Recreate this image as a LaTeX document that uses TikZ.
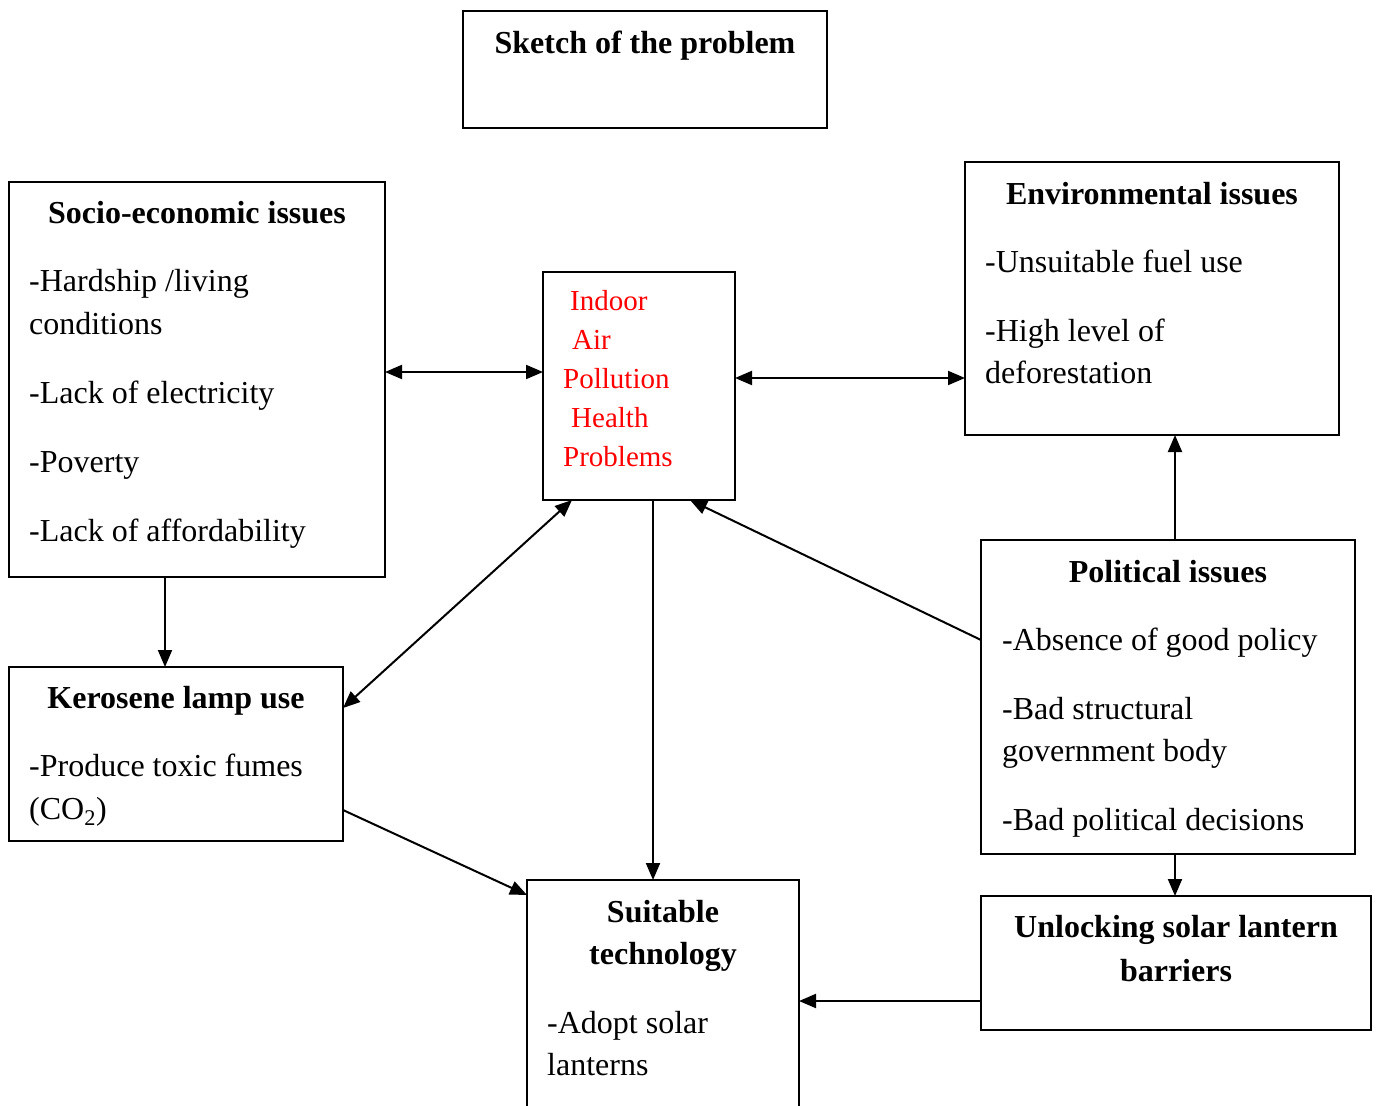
\documentclass[tikz,border=0pt]{standalone}
\usepackage{fontspec}
\setmainfont{Liberation Serif}
\usetikzlibrary{arrows.meta}
\begin{document}
\begin{tikzpicture}[x=1pt,y=-1pt,
  box/.style={draw, line width=1.8pt, inner sep=0pt, outer sep=0pt},
  txt/.style={inner sep=0pt, anchor=base west, font=\fontsize{32}{43}\selectfont},
  ttl/.style={inner sep=0pt, anchor=base, font=\fontsize{32}{43}\selectfont\bfseries},
  red/.style={inner sep=0pt, anchor=base west, text=red, font=\fontsize{29}{39}\selectfont},
  conn/.style={line width=2pt, -{Triangle[length=17pt,width=14pt]}},
  biconn/.style={line width=2pt, {Triangle[length=17pt,width=14pt]}-{Triangle[length=17pt,width=14pt]}}]
\useasboundingbox (0,0) rectangle (1377,1106);
% boxes
\node[box, minimum width=364pt, minimum height=117pt] (sk) at (645,69.5) {};
\node[box, minimum width=376pt, minimum height=395pt] (soc) at (197,379.5) {};
\node[box, minimum width=192pt, minimum height=228pt] (iap) at (639,386) {};
\node[box, minimum width=374pt, minimum height=273pt] (env) at (1152,298.5) {};
\node[box, minimum width=374pt, minimum height=314pt] (pol) at (1168,697) {};
\node[box, minimum width=334pt, minimum height=174pt] (ker) at (176,754) {};
\node[box, minimum width=272pt, minimum height=260pt] (suit) at (663,1010) {};
\node[box, minimum width=390pt, minimum height=134pt] (unl) at (1176,963) {};
% texts
\node[ttl] (skt) at (645,53) {Sketch of the problem};
\node[ttl] (soct) at (197,223) {Socio-economic issues};
\node[txt] (soc1) at (29,291) {-Hardship /living};
\node[txt] (soc2) at (29,334) {conditions};
\node[txt] (soc3) at (29,403) {-Lack of electricity};
\node[txt] (soc4) at (29,472) {-Poverty};
\node[txt] (soc5) at (29,541) {-Lack of affordability};
\node[red] (i1) at (570,310) {Indoor};
\node[red] (i2) at (572,349) {Air};
\node[red] (i3) at (563,388) {Pollution};
\node[red] (i4) at (571,427) {Health};
\node[red] (i5) at (563,466) {Problems};
\node[ttl] (envt) at (1152,204) {Environmental issues};
\node[txt] (env1) at (985,272) {-Unsuitable fuel use};
\node[txt] (env2) at (985,341) {-High level of};
\node[txt] (env3) at (985,383) {deforestation};
\node[ttl] (polt) at (1168,582) {Political issues};
\node[txt] (pol1) at (1002,650) {-Absence of good policy};
\node[txt] (pol2) at (1002,719) {-Bad structural};
\node[txt] (pol3) at (1002,761) {government body};
\node[txt] (pol4) at (1002,830) {-Bad political decisions};
\node[ttl] (kert) at (176,708) {Kerosene lamp use};
\node[txt] (ker1) at (29,776) {-Produce toxic fumes};
\node[txt] (ker2) at (29,819) {(CO\textsubscript{2})};
\node[ttl] (suitt1) at (663,922) {Suitable};
\node[ttl] (suitt2) at (663,964) {technology};
\node[txt] (suit1) at (547,1033) {-Adopt solar};
\node[txt] (suit2) at (547,1075) {lanterns};
\node[ttl] (unlt1) at (1176,937) {Unlocking solar lantern};
\node[ttl] (unlt2) at (1176,981) {barriers};
% connectors
\draw[biconn] (soc.east |- 0,372) -- (iap.west |- 0,372);
\draw[biconn] (iap.east |- 0,378) -- (env.west |- 0,378);
\draw[conn] (soc.south -| 165,0) -- (ker.north -| 165,0);
\draw[biconn] (ker.east |- 0,708) -- (iap.south -| 572,0);
\draw[conn] (iap.south -| 653,0) -- (suit.north -| 653,0);
\draw[conn] (pol.west |- 0,640) -- (iap.south -| 690,0);
\draw[conn] (pol.north -| 1175,0) -- (env.south -| 1175,0);
\draw[conn] (pol.south -| 1175,0) -- (unl.north -| 1175,0);
\draw[conn] (ker.east |- 0,810) -- (suit.west |- 0,895);
\draw[conn] (unl.west |- 0,1001) -- (suit.east |- 0,1001);
\end{tikzpicture}
\end{document}
